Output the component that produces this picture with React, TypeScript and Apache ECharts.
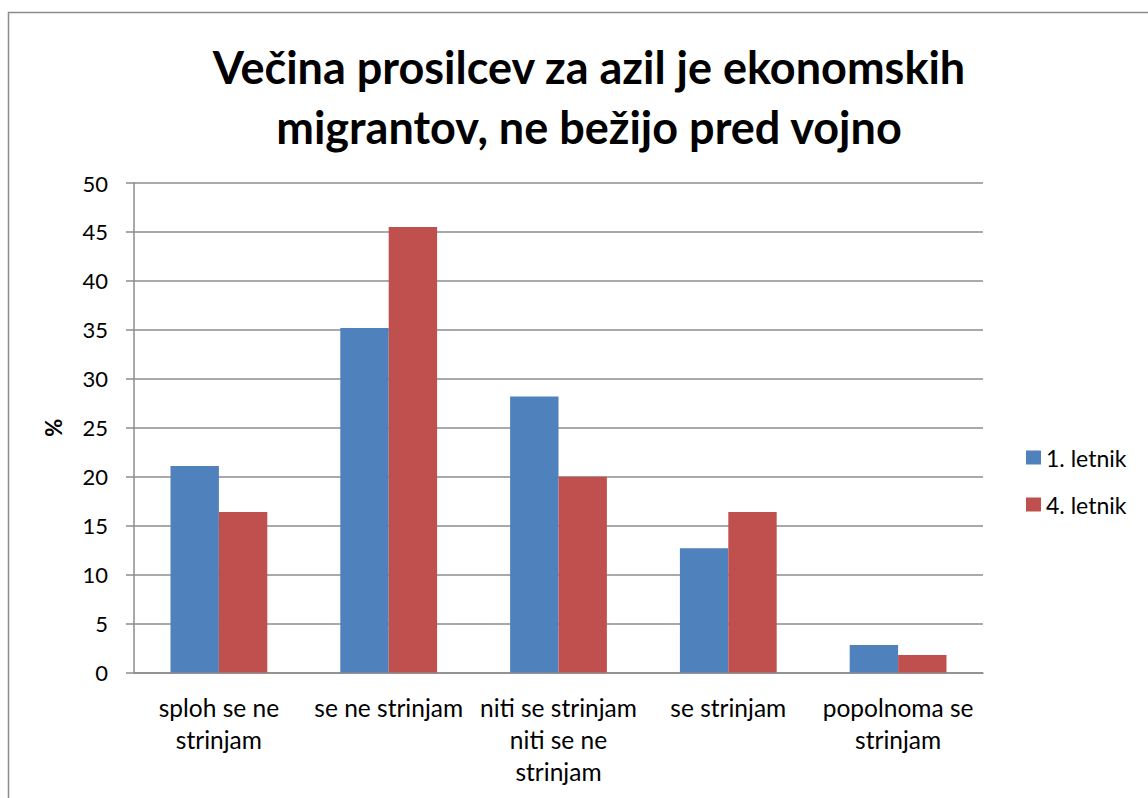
import React, { useEffect, useRef } from "react";
import * as echarts from "echarts";

const categories = [
  "sploh se ne\nstrinjam",
  "se ne strinjam",
  "niti se strinjam\nniti se ne\nstrinjam",
  "se strinjam",
  "popolnoma se\nstrinjam",
];
const seriesNames = ["1. letnik", "4. letnik"];
const letnik1 = [21.1, 35.2, 28.2, 12.7, 2.8];
const letnik4 = [16.4, 45.5, 20.0, 16.4, 1.8];
const yTicks = { min: 0, max: 50, interval: 5 };

export default function App() {
  const ref = useRef<HTMLDivElement>(null);
  useEffect(() => {
    if (!ref.current) return;
    const chart = echarts.init(ref.current, null, { renderer: "svg" });
    const font = "Lato, 'Open Sans', sans-serif";
    chart.setOption({
      animation: false,
      textStyle: { fontFamily: font },
      graphic: [
        {
          type: "rect",
          shape: { x: 8.5, y: 12.5, width: 1200, height: 900 },
          style: { fill: "none", stroke: "#8c8c8c", lineWidth: 1.5 },
          silent: true,
        },
      ],
      title: {
        text: "Večina prosilcev za azil je ekonomskih\nmigrantov, ne bežijo pred vojno",
        left: 584,
        textAlign: "center",
        top: 32,
        textStyle: {
          fontFamily: font,
          fontWeight: "bold",
          fontSize: 45,
          lineHeight: 60,
          color: "#000",
        },
      },
      legend: {
        orient: "vertical",
        left: 1021,
        top: 441,
        itemWidth: 15,
        itemHeight: 14,
        itemGap: 24,
        icon: "rect",
        textStyle: { fontFamily: font, fontSize: 23, color: "#000", padding: [0, 0, 0, 0] },
        data: seriesNames,
      },
      grid: { left: 134, right: 165, top: 183, bottom: 125.5 },
      xAxis: {
        type: "category",
        data: categories,
        axisLine: { lineStyle: { color: "#8c8c8c", width: 1.5 } },
        axisTick: { show: false },
        axisLabel: {
          interval: 0,
          color: "#000",
          fontFamily: font,
          fontSize: 24.5,
          lineHeight: 32,
          margin: 19,
        },
      },
      yAxis: {
        type: "value",
        min: yTicks.min,
        max: yTicks.max,
        interval: yTicks.interval,
        name: "%",
        nameLocation: "middle",
        nameGap: 70,
        nameRotate: 90,
        nameTextStyle: { fontFamily: font, fontSize: 22, fontWeight: "bold", color: "#000" },
        axisLine: { show: true, lineStyle: { color: "#8c8c8c", width: 1.5 } },
        axisTick: { show: true, length: 8, lineStyle: { color: "#8c8c8c", width: 1.5 } },
        axisLabel: { color: "#000", fontFamily: font, fontSize: 22, margin: 26 },
        splitLine: { lineStyle: { color: "#8c8c8c", width: 1.5 } },
      },
      series: [
        {
          name: seriesNames[0],
          type: "bar",
          data: letnik1,
          barGap: "0%",
          barCategoryGap: "43%",
          itemStyle: { color: "#4F81BD" },
        },
        {
          name: seriesNames[1],
          type: "bar",
          data: letnik4,
          barGap: "0%",
          barCategoryGap: "43%",
          itemStyle: { color: "#C0504D" },
        },
      ],
    });
    return () => chart.dispose();
  }, []);
  return (
    <div
      ref={ref}
      style={{ position: "absolute", left: 0, top: 0, width: 1148, height: 798, background: "#fff" }}
    />
  );
}
